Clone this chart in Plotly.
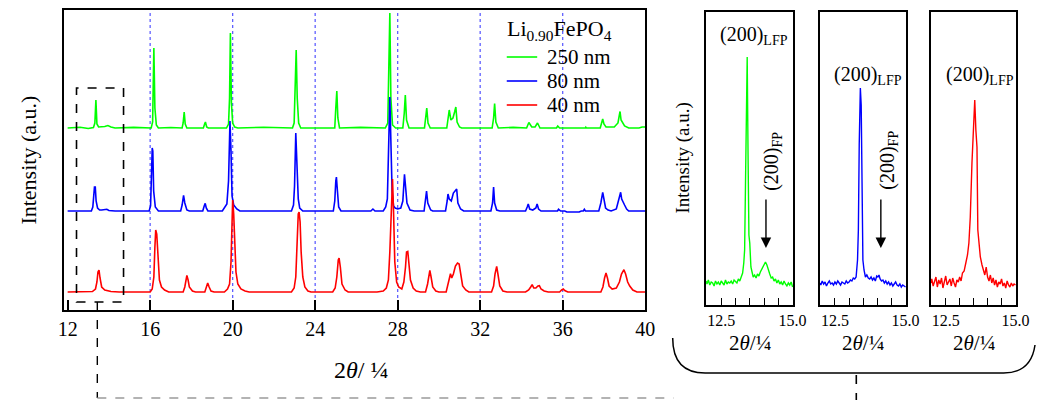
import plotly.graph_objects as go

# ---------------- main pattern data (2theta in degrees, intensity in a.u. above baseline) -------------
tt_green = [12.0, 12.6, 13.0, 13.25, 13.32, 13.37, 13.42, 13.5, 13.8, 13.95, 14.1, 14.3, 15.2, 16.05, 16.12, 16.18,
            16.23, 16.3, 16.4, 17.0, 17.55, 17.6, 17.65, 17.7, 17.78, 18.58, 18.64, 18.68, 18.74, 18.82, 19.7, 19.8,
            19.85, 19.89, 19.94, 20.0, 20.1, 20.25, 21.5, 22.9, 22.98, 23.04, 23.08, 23.13, 23.2, 23.3, 24.95, 25.0,
            25.05, 25.1, 25.18, 26.2, 27.4, 27.52, 27.57, 27.62, 27.67, 27.75, 27.9, 28.25, 28.32, 28.37, 28.43,
            28.55, 29.3, 29.36, 29.41, 29.47, 29.58, 30.38, 30.45, 30.5, 30.58, 30.68, 30.76, 30.82, 30.88, 31.0,
            31.1, 32.58, 32.65, 32.7, 32.76, 32.88, 33.6, 34.25, 34.36, 34.5, 34.66, 34.78, 34.9, 35.7, 35.76, 35.85,
            37.1, 37.12, 37.15, 37.82, 37.9, 37.94, 38.0, 38.1, 38.5, 38.68, 38.74, 38.78, 38.83, 38.9, 39.0, 39.2,
            39.7, 39.85, 40.0]
I_green = [0, 0.8, -0.5, 0.5, 5, 28, 4, 1, 1.5, 2.5, 1, 0, 0.6, 0, 6, 80,
           20, 3, 0, 0.5, 0, 5, 16, 4, 0, 0, 4, 6, 1, 0, 0, 4,
           30, 95, 25, 5, 1, 0, 0.7, 0, 5, 40, 78, 30, 5, 0, 0, 20,
           37, 10, 0, 0.6, 0, 5, 51, 115, 30, 3, 0, 0, 15, 33, 8,
           0, 0, 10, 20, 5, 0, 0, 10, 18, 8, 10, 16, 21, 6, 1,
           0, 0, 10, 24.5, 6, 0, 0.6, 0, 5.5, 1, 1, 5, 0, 0, 2, 0,
           0, 0.8, 0, 0, 6, 9, 4, 1, 1, 5, 12, 16.5, 8, 6, 2, 0,
           0, 1, 1]

tt_blue = [12.0, 13.15, 13.22, 13.26, 13.3, 13.34, 13.38, 13.45, 13.55, 13.65, 13.9, 14.0, 14.3, 15.95, 16.02, 16.07,
           16.1, 16.13, 16.17, 16.25, 16.4, 17.48, 17.55, 17.62, 17.68, 17.78, 17.9, 18.55, 18.62, 18.67, 18.72,
           18.8, 19.5, 19.6, 19.72, 19.8, 19.84, 19.87, 19.92, 19.97, 20.05, 20.2, 20.35, 22.85, 22.95, 23.0, 23.06,
           23.12, 23.18, 23.25, 23.4, 24.88, 24.95, 25.0, 25.03, 25.08, 25.14, 25.25, 26.7, 26.8, 26.9, 27.3, 27.42,
           27.5, 27.57, 27.62, 27.67, 27.73, 27.8, 27.88, 28.0, 28.15, 28.25, 28.3, 28.33, 28.38, 28.45, 28.6, 28.8,
           29.28, 29.35, 29.4, 29.46, 29.6, 29.7, 30.32, 30.4, 30.44, 30.5, 30.6, 30.7, 30.8, 30.86, 30.92, 31.05,
           31.2, 32.52, 32.6, 32.65, 32.7, 32.8, 32.95, 34.2, 34.28, 34.33, 34.4, 34.55, 34.7, 34.76, 34.83, 34.95,
           35.75, 35.8, 35.9, 36.1, 36.2, 36.8, 36.9, 37.0, 37.05, 37.1, 37.75, 37.85, 37.94, 38.0, 38.08, 38.2,
           38.35, 38.6, 38.7, 38.78, 38.81, 38.86, 38.92, 39.0, 39.1, 39.2, 40.0]
I_blue = [0, 0, 4, 20, 24, 24, 10, 3, 1, 1, 1.7, 0.5, 0, 0, 5, 40,
          63, 60, 20, 4, 0, 0, 6, 15.7, 8, 1, 0, 0, 5, 7.7, 3,
          0, 0, 3, 7, 30, 85, 90, 60, 15, 6, 2, 0, 0, 6, 25, 78,
          50, 12, 3, 0, 0, 10, 30, 34, 20, 4, 0, 0, 2, 0, 0, 4,
          12, 60, 114, 70, 20, 5, 3, 2, 3, 10, 30, 36.7, 25, 8, 1, 0,
          0, 12, 20, 8, 1, 0, 0, 10, 17, 12, 10, 18, 20, 22, 8, 2,
          0, 0, 8, 24, 8, 1, 0, 0, 4, 7, 2, 1, 3, 7, 2, 0,
          0, 1.7, 0, 0, -1, -1, 0, 0, 1.7, 0, 0, 8, 18.7, 10, 3, 1,
          0, 2, 10, 17, 18.7, 12, 10, 6, 2, 0, 0]

tt_red = [12.0, 13.2, 13.35, 13.42, 13.47, 13.52, 13.57, 13.65, 13.8, 14.1, 14.5, 16.0, 16.1, 16.18, 16.23, 16.27,
          16.32, 16.37, 16.45, 16.55, 16.7, 16.9, 17.6, 17.68, 17.74, 17.78, 17.84, 17.9, 18.05, 18.2, 18.65, 18.72,
          18.79, 18.86, 18.95, 19.1, 19.6, 19.75, 19.85, 19.92, 19.97, 20.0, 20.05, 20.1, 20.16, 20.25, 20.4, 20.6,
          20.8, 22.85, 22.98, 23.06, 23.12, 23.18, 23.22, 23.27, 23.32, 23.4, 23.5, 23.65, 23.8, 24.85, 24.97, 25.05,
          25.12, 25.16, 25.22, 25.3, 25.45, 25.6, 27.0, 27.3, 27.45, 27.55, 27.62, 27.7, 27.75, 27.8, 27.86, 27.95,
          28.05, 28.2, 28.3, 28.38, 28.43, 28.49, 28.55, 28.62, 28.75, 28.9, 29.1, 29.35, 29.45, 29.52, 29.56, 29.62,
          29.7, 29.85, 30.0, 30.35, 30.45, 30.52, 30.56, 30.62, 30.7, 30.8, 30.9, 30.98, 31.05, 31.15, 31.3, 31.45,
          32.55, 32.65, 32.72, 32.8, 32.86, 32.95, 33.1, 33.3, 34.2, 34.35, 34.45, 34.52, 34.6, 34.7, 34.8, 34.87,
          34.95, 35.1, 35.3, 35.85, 35.95, 36.03, 36.1, 36.25, 37.85, 37.95, 38.03, 38.1, 38.17, 38.25, 38.4, 38.6,
          38.75, 38.85, 38.97, 39.05, 39.15, 39.25, 39.4, 39.6, 40.0]
I_red = [0, 0.5, 3, 10, 20, 22, 14, 5, 2, 0.5, 0, 0, 3, 15, 45, 62,
         58, 35, 12, 5, 2, 0, 0, 5, 14, 16.5, 12, 5, 1, 0, 0, 5,
         9, 5, 1, 0, 0, 3, 8, 30, 80, 92, 78, 45, 20, 8, 3, 1,
         0, 0, 4, 15, 50, 78, 80, 70, 40, 15, 5, 1, 0, 0, 4, 15,
         32, 34, 25, 8, 2, 0, 0, 1, 4, 12, 40, 95, 113, 80, 30, 10,
         5, 3, 10, 25, 40, 40.6, 30, 12, 4, 1, 0, 0, 8, 18, 21.6, 15,
         5, 1, 0, 0, 8, 16, 18.3, 14, 18, 26, 29, 28, 18, 6, 2, 0,
         0, 6, 18, 25.7, 18, 6, 1, 0, 0, 2, 5, 7.3, 4, 4, 6, 6.3,
         3, 1, 0, 0, 2, 3, 1.5, 0, 0, 5, 14, 19, 14, 6, 3, 4,
         10, 18, 22.3, 18, 10, 6, 2, 0, 0]

series_names = ["250 nm", "80 nm", "40 nm"]
stack_offset = {"250 nm": 182, "80 nm": 99, "40 nm": 18}
series_colors = {"250 nm": "#00ff00", "80 nm": "#0000ff", "40 nm": "#ff0000"}
reference_lines = [16, 20, 24, 28, 32, 36]
zoom_window = (12.43, 14.71)
legend_title = "Li<sub>0.90</sub>FePO<sub>4</sub>"

# ---------------- zoomed (200) region data -------------
tt_in_green = [11.97, 12.0, 12.05, 12.1, 12.15, 12.2, 12.25, 12.3, 12.35, 12.4, 12.45, 12.5, 12.55, 12.6, 12.65, 12.7,
               12.75, 12.8, 12.85, 12.9, 12.95, 13.0, 13.05, 13.1, 13.15, 13.2, 13.25, 13.29, 13.32, 13.35, 13.38,
               13.41, 13.44, 13.47, 13.5, 13.54, 13.58, 13.62, 13.67, 13.72, 13.77, 13.82, 13.87, 13.92, 13.97, 14.02,
               14.05, 14.1, 14.15, 14.2, 14.25, 14.3, 14.35, 14.4, 14.45, 14.5, 14.55, 14.6, 14.65, 14.7, 14.75, 14.8,
               14.85, 14.9, 14.95, 15.0]
I_in_green = [24, 21, 25, 20, 23, 22, 19, 24, 21, 23, 20, 24, 22, 20, 25, 21,
              23, 22, 24, 21, 25, 23, 22, 26, 24, 28, 32, 42, 55, 120, 210,
              248, 150, 70, 62, 38, 33, 28, 30, 27, 31, 29, 33, 36, 39, 42,
              43, 40, 34, 31, 27, 28, 24, 26, 22, 25, 21, 23, 20, 24, 21, 19,
              22, 20, 23, 18, 21]

tt_in_blue = [11.97, 12.0, 12.05, 12.1, 12.15, 12.2, 12.25, 12.3, 12.35, 12.4, 12.45, 12.5, 12.55, 12.6, 12.65, 12.7,
              12.75, 12.8, 12.85, 12.9, 12.95, 13.0, 13.05, 13.1, 13.15, 13.2, 13.25, 13.3, 13.33, 13.36, 13.4,
              13.43, 13.46, 13.49, 13.53, 13.58, 13.63, 13.68, 13.73, 13.78, 13.83, 13.88, 13.93, 13.98, 14.02, 14.06,
              14.1, 14.15, 14.2, 14.25, 14.3, 14.35, 14.4, 14.45, 14.5, 14.55, 14.6, 14.65, 14.7, 14.75, 14.8, 14.85,
              14.9, 14.95, 15.0]
I_in_blue = [22, 20, 24, 21, 23, 19, 22, 24, 21, 22, 20, 23, 21, 24, 22, 20,
             23, 22, 21, 24, 22, 23, 25, 24, 27, 26, 28, 45, 75, 160, 217,
             200, 142, 45, 35, 28, 30, 27, 26, 28, 25, 27, 24, 29, 28, 30,
             26, 24, 25, 22, 24, 21, 23, 20, 22, 19, 21, 23, 20, 19, 21, 18,
             20, 19, 18]

tt_in_red = [11.97, 12.0, 12.05, 12.1, 12.15, 12.2, 12.25, 12.3, 12.35, 12.4, 12.45, 12.5, 12.55, 12.6, 12.65, 12.7,
             12.75, 12.8, 12.85, 12.9, 12.95, 13.0, 13.05, 13.1, 13.16, 13.22, 13.28, 13.33, 13.38, 13.44, 13.5,
             13.54, 13.58, 13.62, 13.65, 13.7, 13.74, 13.8, 13.85, 13.9, 13.95, 14.0, 14.05, 14.1, 14.15, 14.2, 14.25,
             14.3, 14.35, 14.4, 14.45, 14.5, 14.55, 14.6, 14.65, 14.7, 14.75, 14.8, 14.85, 14.9, 14.95, 15.0]
I_in_red = [22, 26, 19, 24, 28, 18, 25, 21, 27, 17, 24, 29, 20, 23, 26, 19,
            27, 22, 18, 25, 23, 28, 24, 32, 34, 42, 50, 62, 88, 142, 185,
            205, 175, 158, 75, 60, 48, 40, 35, 30, 38, 28, 24, 30, 22, 27, 20,
            25, 18, 23, 21, 26, 19, 22, 17, 24, 20, 18, 22, 19, 21, 20]

inset_series = [("250 nm", tt_in_green, I_in_green), ("80 nm", tt_in_blue, I_in_blue), ("40 nm", tt_in_red, I_in_red)]
inset_ticks = [12.5, 15.0]
inset_ticktext = ["12.5", "15.0"]

W, H = 1048, 400
SERIF = "Liberation Serif, Times New Roman, Times, serif"


def px(x):
    return x / W


def py(y):
    return 1 - y / H


fig = go.Figure()

main_data = {"250 nm": (tt_green, I_green), "80 nm": (tt_blue, I_blue), "40 nm": (tt_red, I_red)}
for name in series_names:
    tt, I = main_data[name]
    fig.add_trace(go.Scatter(x=tt, y=[v + stack_offset[name] for v in I], mode="lines", name=name, showlegend=False,
                             line=dict(color=series_colors[name], width=1.6), xaxis="x", yaxis="y"))

for i, (name, tt, I) in enumerate(inset_series):
    k = i + 2
    fig.add_trace(go.Scatter(x=tt, y=I, mode="lines", showlegend=False, line=dict(color=series_colors[name], width=1.4),
                             xaxis=f"x{k}", yaxis=f"y{k}"))

axis_common = dict(showline=True, linecolor="black", linewidth=1.5, mirror=True, showgrid=False, zeroline=False)

layout = dict(
    width=W, height=H, autosize=False, margin=dict(l=0, r=0, t=0, b=0),
    paper_bgcolor="white", plot_bgcolor="white",
    font=dict(family=SERIF, color="black"),
    showlegend=False,
    xaxis=dict(domain=[px(59), px(651)], range=[11.82, 40.0], tick0=12, dtick=4, ticks="inside", ticklen=10,
               tickwidth=1.5, tickcolor="black", tickfont=dict(size=20, family=SERIF), anchor="y", **axis_common),
    yaxis=dict(domain=[py(310), py(10)], range=[0, 300], showticklabels=False, ticks="", anchor="x", **axis_common),
)

inset_domains = [(713, 802), (829, 917), (942, 1029)]
for i, (a, b) in enumerate(inset_domains):
    k = i + 2
    layout[f"xaxis{k}"] = dict(domain=[px(a), px(b)], range=[11.97, 15.03], tickvals=inset_ticks,
                               ticktext=inset_ticktext, ticks="inside", ticklen=7, tickwidth=1.2, tickcolor="black",
                               minor=dict(ticks="inside", ticklen=7, tickwidth=1.2, tickcolor="black",
                                          tick0=12, dtick=0.5),
                               tickfont=dict(size=16, family=SERIF), anchor=f"y{k}", **axis_common)
    layout[f"yaxis{k}"] = dict(domain=[py(305), py(12)], range=[0, 293], showticklabels=False, ticks="",
                               anchor=f"x{k}", **axis_common)

fig.update_layout(**layout)

# reference dotted lines
for v in reference_lines:
    fig.add_shape(type="line", xref="x", yref="y domain", x0=v, x1=v, y0=0, y1=1, layer="below",
                  line=dict(color="#6060ff", width=1.3, dash="dot"))

# zoom window rectangle
fig.add_shape(type="rect", xref="x", yref="y", x0=zoom_window[0], x1=zoom_window[1], y0=8, y1=222,
              line=dict(color="black", width=1.6, dash="dash"))
# connector lines
fig.add_shape(type="line", xref="paper", yref="paper", x0=px(93), x1=px(93), y0=py(302), y1=py(398),
              line=dict(color="black", width=1.4, dash="dash"))
fig.add_shape(type="line", xref="paper", yref="paper", x0=px(93), x1=px(680), y0=py(398), y1=py(398),
              line=dict(color="#9a9a9a", width=1.4, dash="dash"))
# bracket under insets
bracket = (f"M {px(679)},{py(338)} Q {px(679)},{py(373)} {px(712)},{py(373)} "
           f"L {px(1016)},{py(373)} Q {px(1044)},{py(373)} {px(1048)},{py(345)}")
fig.add_shape(type="path", xref="paper", yref="paper", path=bracket, line=dict(color="black", width=1.5))
fig.add_shape(type="line", xref="paper", yref="paper", x0=px(866), x1=px(866), y0=py(375), y1=py(400),
              line=dict(color="black", width=1.6, dash="dash"))

ann = []
# legend (drawn by hand to match entry spacing)
ann.append(dict(x=px(508), y=py(30), text=legend_title, xanchor="left", font=dict(size=22, family=SERIF)))
for j, name in enumerate(series_names):
    yy = 57 + 24 * j
    fig.add_shape(type="line", xref="paper", yref="paper", x0=px(510), x1=px(541), y0=py(yy), y1=py(yy),
                  line=dict(color=series_colors[name], width=1.6))
    ann.append(dict(x=px(549), y=py(yy), text=name, xanchor="left", font=dict(size=21, family=SERIF)))

ann.append(dict(x=px(22), y=py(160), text="Intensity (a.u.)", textangle=-90, font=dict(size=22, family=SERIF)))
ann.append(dict(x=px(362), y=py(370), text="2<i>θ</i>/ ¼", font=dict(size=24, family=SERIF)))
ann.append(dict(x=px(690), y=py(158), text="Intensity (a.u.)", textangle=-90, font=dict(size=19, family=SERIF)))
for (a, b) in inset_domains:
    ann.append(dict(x=px((a + b) / 2), y=py(343), text="2<i>θ</i>/¼", font=dict(size=21, family=SERIF)))
ann.append(dict(x=px(762), y=py(36), text="(200)<sub>LFP</sub>", font=dict(size=20, family=SERIF)))
ann.append(dict(x=px(878), y=py(75), text="(200)<sub>LFP</sub>", font=dict(size=20, family=SERIF)))
ann.append(dict(x=px(992), y=py(76), text="(200)<sub>LFP</sub>", font=dict(size=20, family=SERIF)))
ann.append(dict(x=px(780), y=py(161), text="(200)<sub>FP</sub>", textangle=-90, font=dict(size=20, family=SERIF)))
ann.append(dict(x=px(898), y=py(160), text="(200)<sub>FP</sub>", textangle=-90, font=dict(size=20, family=SERIF)))
for a in ann:
    a.setdefault("xanchor", "center")
    a.update(xref="paper", yref="paper", showarrow=False, yanchor="middle")
for (x, y) in [(774, 248), (891, 248)]:
    ann.append(dict(xref="paper", yref="paper", x=px(x), y=py(y), ax=0, ay=-50, text="", showarrow=True,
                    arrowhead=2, arrowsize=1.5, arrowwidth=1.4, arrowcolor="black"))
fig.update_layout(annotations=ann)

fig.write_html("out.html", config={"displayModeBar": False, "responsive": False},
               post_script="document.documentElement.style.overflow='hidden';"
                           "document.body.style.overflow='hidden';document.body.style.margin='0px';")
